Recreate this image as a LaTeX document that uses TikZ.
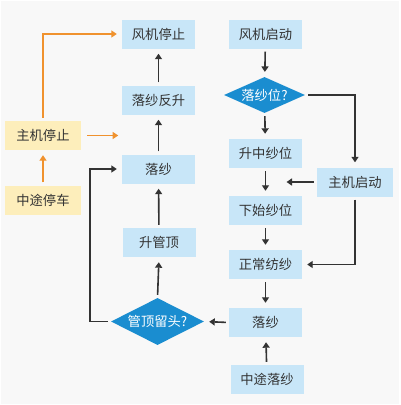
\documentclass[tikz,border=0pt]{standalone}
\usepackage{fontspec}
\setmainfont{Noto Sans CJK SC}
\usetikzlibrary{shapes.geometric,arrows.meta}
\definecolor{bgc}{HTML}{F8F8F8}
\definecolor{boxblue}{HTML}{C8E6F8}
\definecolor{diablue}{HTML}{1A8DD0}
\definecolor{boxyel}{HTML}{FDEEBB}
\definecolor{orangeline}{HTML}{F0922E}
\definecolor{txt}{HTML}{333333}
\definecolor{linec}{HTML}{333333}
\tikzset{
  bluebox/.style={rectangle, fill=boxblue, minimum width=73pt, minimum height=29pt, inner sep=0pt, text=txt, font=\fontsize{13.3}{15}\selectfont},
  yelbox/.style={rectangle, fill=boxyel, minimum width=76pt, minimum height=29pt, inner sep=0pt, text=txt, font=\fontsize{13.3}{15}\selectfont},
  decision/.style={diamond, fill=diablue, aspect=2.2, inner sep=0pt, text=white, font=\fontsize{13.3}{15}\selectfont},
  darrow/.style={draw=linec, line width=1.6pt, -{Triangle[length=5.5pt,width=7pt]}, shorten >=5pt, shorten <=3pt},
  oarrow/.style={draw=orangeline, line width=1.6pt, -{Triangle[length=5.5pt,width=7pt]}, shorten >=5pt, shorten <=3pt},
}
\begin{document}
\begin{tikzpicture}[x=1pt,y=-1pt]
\fill[bgc] (0,0) rectangle (400,405);
\draw[white,line width=1.2pt] (0.8,0.8) rectangle (399.2,404.2);
\useasboundingbox (0,0) rectangle (400,405);
% left column
\node[bluebox] (fjtz) at (158.5,34) {风机停止};
\node[bluebox] (lsfs) at (158.5,100) {落纱反升};
\node[bluebox] (lsL) at (158.5,169) {落纱};
\node[bluebox] (sgd) at (159,242.5) {升管顶};
\node[decision, minimum width=93pt, minimum height=47pt] (gdlt) at (157.5,321.5) {管顶留头?};
\node[yelbox] (zjtz) at (43,135.5) {主机停止};
\node[yelbox] (ztct) at (43,200) {中途停车};
% right column
\node[bluebox] (fjqd) at (265.5,34) {风机启动};
\node[decision, minimum width=81pt, minimum height=36pt] (lsw) at (264.5,95) {落纱位?};
\node[bluebox] (szsw) at (265.5,153.5) {升中纱位};
\node[bluebox] (xssw) at (265.5,210.5) {下始纱位};
\node[bluebox] (zcfs) at (265.5,264.5) {正常纺纱};
\node[bluebox] (lsR) at (265.5,322.5) {落纱};
\node[bluebox] (ztls) at (267,379.5) {中途落纱};
\node[bluebox, minimum width=76pt] (zjqd) at (355,182) {主机启动};
\coordinate (mid) at (265.5,182);
% dark connectors
\draw[darrow] (fjqd) -- (lsw);
\draw[darrow] (lsw) -- (szsw);
\draw[darrow] (szsw) -- (xssw);
\draw[darrow] (xssw) -- (zcfs);
\draw[darrow] (zcfs) -- (lsR);
\draw[darrow] (ztls) -- (lsR);
\draw[darrow] (lsw.east) -| (zjqd.north);
\draw[darrow, shorten >=21pt] (zjqd.west) -- (mid);
\draw[darrow] (zjqd.south) |- (zcfs.east);
\draw[darrow] (lsR.west) -- (gdlt.east);
\draw[darrow] (gdlt.north) -- (sgd.south);
\draw[darrow] (sgd) -- (lsL);
\draw[darrow] (lsL) -- (lsfs);
\draw[darrow] (lsfs) -- (fjtz);
\draw[darrow] (gdlt.west) -- ++(-21,0) |- (lsL.west);
% orange connectors
\draw[oarrow] (ztct) -- (zjtz);
\draw[oarrow] (zjtz.north) |- (fjtz.west);
\draw[oarrow, shorten <=6pt, shorten >=0pt] (zjtz.east) -- ++(37,0);
\end{tikzpicture}
\end{document}
